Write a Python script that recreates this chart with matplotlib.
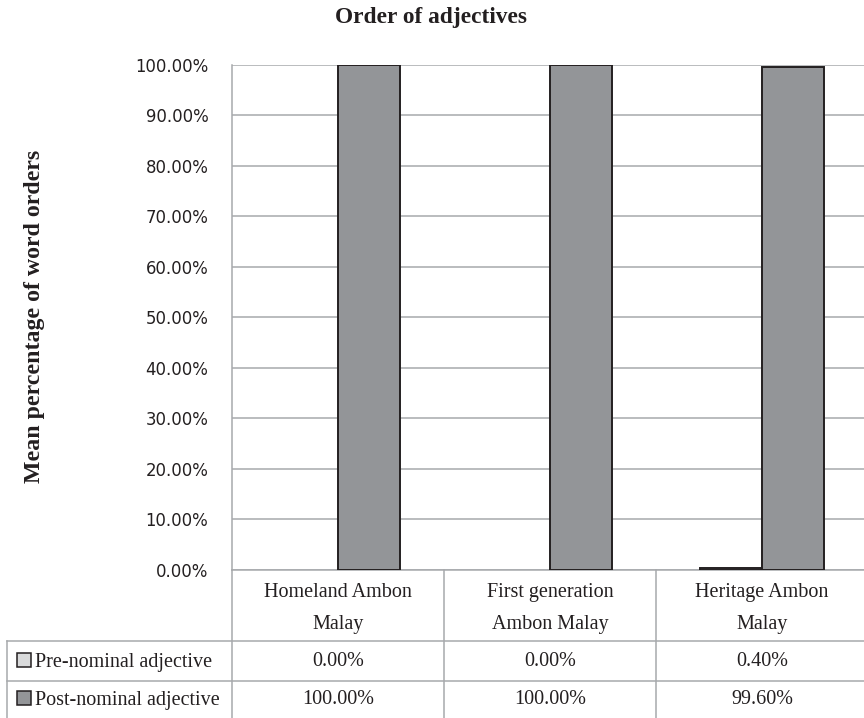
import matplotlib
matplotlib.use("Agg")
import numpy as np
import matplotlib.pyplot as plt
import matplotlib.transforms as mtransforms
from matplotlib.patches import Rectangle
from matplotlib.lines import Line2D

# ---- data -------------------------------------------------------------
groups = ["Homeland Ambon\nMalay", "First generation\nAmbon Malay", "Heritage Ambon\nMalay"]
series_names = ["Pre-nominal adjective", "Post-nominal adjective"]
pre_nominal = [0.00, 0.00, 0.40]
post_nominal = [100.00, 100.00, 99.60]
y_ticks = [0, 10, 20, 30, 40, 50, 60, 70, 80, 90, 100]

# ---- style ------------------------------------------------------------
PRE_COLOR = "#d9dadb"
POST_COLOR = "#939598"
EDGE = "#231f20"
GRID = "#a7a9ac"
TEXT = "#231f20"
SERIF = ["Liberation Serif", "DejaVu Serif"]

W, H = 864, 718
fig = plt.figure(figsize=(W / 100, H / 100), dpi=100)
fig.patch.set_facecolor("white")

# plot area in pixel terms
ax_l, ax_r, ax_t, ax_b = 232, 868, 64.5, 570
ax = fig.add_axes([ax_l / W, 1 - ax_b / H, (ax_r - ax_l) / W, (ax_b - ax_t) / H])
ax_w_px = ax_r - ax_l
ax_h_px = ax_b - ax_t

n = len(groups)
centers = np.arange(n) + 0.5
bw = 0.292

pre_edges = [EDGE if v > 0 else "none" for v in pre_nominal]
ax.bar(centers - bw / 2, pre_nominal, bw, color=PRE_COLOR, edgecolor=pre_edges,
       linewidth=1.4, zorder=3)
ax.bar(centers + bw / 2, post_nominal, bw, color=POST_COLOR, edgecolor=EDGE,
       linewidth=1.4, zorder=3)

ax.set_xlim(0, n)
ax.set_ylim(0, 100)
ax.set_yticks(y_ticks)
ax.set_yticklabels([f"{t:.2f}%" for t in y_ticks], fontsize=11.9, color=TEXT,
                   family="DejaVu Sans")
ax.set_xticks([])
ax.tick_params(axis="y", length=0, pad=17)
ax.yaxis.grid(True, color=GRID, linewidth=1.1)
ax.set_axisbelow(True)
for s in ["top", "right"]:
    ax.spines[s].set_visible(False)
for s in ["left", "bottom"]:
    ax.spines[s].set_color(GRID)
    ax.spines[s].set_linewidth(1.1)

# ---- data table beneath the axis --------------------------------------
blend = mtransforms.blended_transform_factory(ax.transData, ax.transAxes)

def fy(py):
    """pixel row below the axis -> axes fraction"""
    return -(py - ax_b) / ax_h_px

px_per_unit = ax_w_px / n
x_left = -(ax_l - 7) / px_per_unit
row_edges = [570, 641, 681, 720]
row_baselines = [666.5, 704.5]

def tline(xs, ys):
    ax.add_line(Line2D(xs, ys, transform=blend, color=GRID, linewidth=1.1,
                       clip_on=False))

for i in range(n + 1):
    tline([i, i], [0, fy(730)])
tline([x_left, x_left], [fy(row_edges[1]), fy(730)])
for r in row_edges[1:]:
    tline([x_left, n], [fy(r), fy(r)])

TBL_FS = 14.5
head_y = fy(608.5)
for c, g in zip(centers, groups):
    ax.text(c, head_y, g, transform=blend, ha="center", va="center",
            fontsize=TBL_FS, family=SERIF, color=TEXT, linespacing=1.9)

for name, vals, col, base in zip(series_names, [pre_nominal, post_nominal],
                                 [PRE_COLOR, POST_COLOR], row_baselines):
    for c, v in zip(centers, vals):
        ax.text(c, fy(base), f"{v:.2f}%", transform=blend, ha="center",
                va="baseline", fontsize=TBL_FS, family=SERIF, color=TEXT)
    fig.add_artist(Rectangle((17 / W, 1 - (base + 0.5) / H), 14 / W, 14.5 / H,
                             transform=fig.transFigure, facecolor=col,
                             edgecolor=EDGE, linewidth=1.1))
    fig.text(35 / W, 1 - base / H, name, ha="left", va="baseline",
             fontsize=TBL_FS, family=SERIF, color=TEXT)

# ---- titles -----------------------------------------------------------
fig.text(431 / W, 1 - 17 / H, "Order of adjectives", ha="center", va="center",
         fontsize=16.8, fontweight="bold", family=SERIF, color=TEXT)
fig.text(35 / W, 1 - 316 / H, "Mean percentage of word orders", ha="center",
         va="center", rotation=90, fontsize=17.2, fontweight="bold",
         family=SERIF, color=TEXT)

fig.savefig("out.png", dpi=100)
